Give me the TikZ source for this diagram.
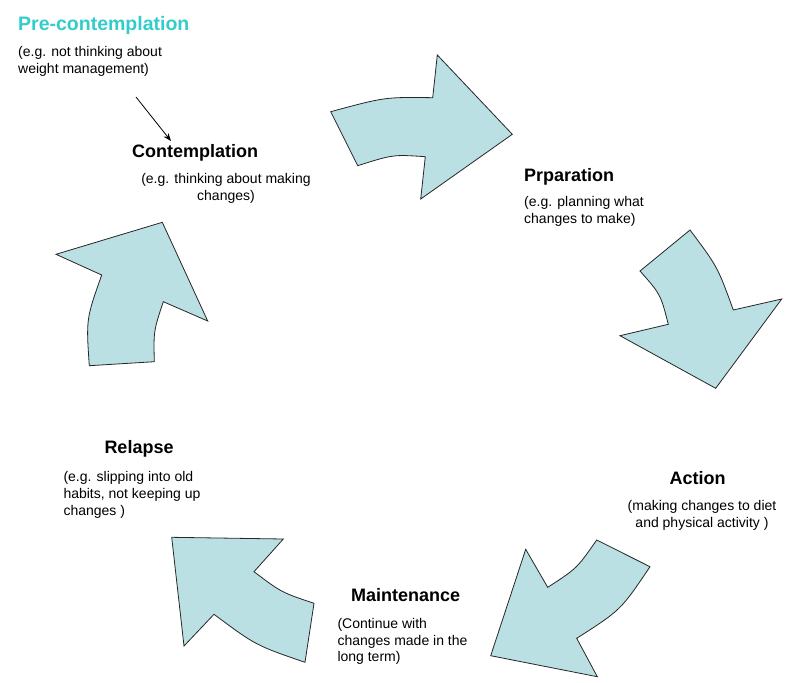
\documentclass[tikz,border=0pt]{standalone}
\usepackage{fontspec}
\setmainfont{Liberation Sans}
\usepackage{xcolor}
\usepackage{tikz}
\usetikzlibrary{arrows.meta,positioning}

\definecolor{cyclefill}{RGB}{187,224,228}
\definecolor{preteal}{RGB}{51,204,204}

\begin{document}
\begin{tikzpicture}[
    x=1pt, y=-1pt,
    stagename/.style={font=\bfseries\fontsize{18}{21}\selectfont, anchor=base west, inner sep=0pt},
    stagenote/.style={font=\fontsize{14}{16.6}\selectfont, align=left, anchor=base west, inner sep=0pt},
    cyclearrow/.style={draw=black!85, fill=cyclefill, line width=0.8pt},
    arrow/.style={-{Stealth[length=8pt,width=6pt]}, line width=0.8pt}
]
    \useasboundingbox (0,0) rectangle (805,682);

    % Stages
    \node[stagename, text=preteal, font=\bfseries\fontsize{19.5}{22}\selectfont] (pre) at (18,31) {Pre-contemplation};
    \node[stagename] (contemp) at (132,157.3) {Contemplation};
    \node[stagename] (prep) at (524,181.7) {Prparation};
    \node[stagename] (action) at (669.3,484) {Action};
    \node[stagename] (maint) at (351,601.7) {Maintenance};
    \node[stagename] (relapse) at (104.3,453.3) {Relapse};

    % Notes (base = last line)
    \node[stagenote] (prenote) at (18,73.3) {(e.g. not thinking about\\weight management)};
    \node[stagenote, align=center, anchor=base] (contempnote) at (226,200.5) {(e.g. thinking about making\\changes)};
    \node[stagenote] (prepnote) at (524,223.5) {(e.g. planning what\\changes to make)};
    \node[stagenote, align=center, anchor=base] (actionnote) at (702,527) {(making changes to diet\\and physical activity )};
    \node[stagenote] (maintnote) at (337.3,661.7) {(Continue with\\changes made in the\\long term)};
    \node[stagenote] (relapsenote) at (63.3,515) {(e.g. slipping into old\\habits, not keeping up\\changes )};

    % Cycle arrows
    \draw[cyclearrow] (330.7,111.7) .. controls (385,97) .. (432.7,97.7) -- (437.3,55) -- (512.3,134.3)
        -- (420.7,199) -- (425.3,156.7) .. controls (393,154.5) .. (357.7,165.7) -- cycle;
    \draw[cyclearrow] (690,230) .. controls (717.6,266.8) .. (733.3,310) -- (781.7,299) -- (715.7,388.3)
        -- (620,335.7) -- (668.3,324.3) .. controls (660.6,294.3) .. (640,271) -- cycle;
    \draw[cyclearrow] (650,566.7) .. controls (620.8,610.1) .. (576.7,638.3) -- (597.3,676.7) -- (490.7,655.7)
        -- (525.7,549.3) -- (547.7,587.3) .. controls (576.8,568.5) .. (596.7,540) -- cycle;
    \draw[cyclearrow] (305,662.3) .. controls (255.8,645.4) .. (214,614.3) -- (184,646) -- (171.7,537.3)
        -- (283.3,539) -- (254,571.7) .. controls (281.4,592.4) .. (314,603.3) -- cycle;
    \draw[cyclearrow] (154.3,361.7) .. controls (153.6,330.9) .. (163.3,301.7) -- (207.7,321) -- (162.3,222.3)
        -- (56,254.3) -- (101.7,275) .. controls (86.1,319.1) .. (89.3,365.7) -- cycle;

    % Pointer
    \coordinate (pstart) at (136,97);
    \draw[arrow] (pstart) -- ([xshift=39pt,yshift=3pt]contemp.north west);
\end{tikzpicture}
\end{document}
